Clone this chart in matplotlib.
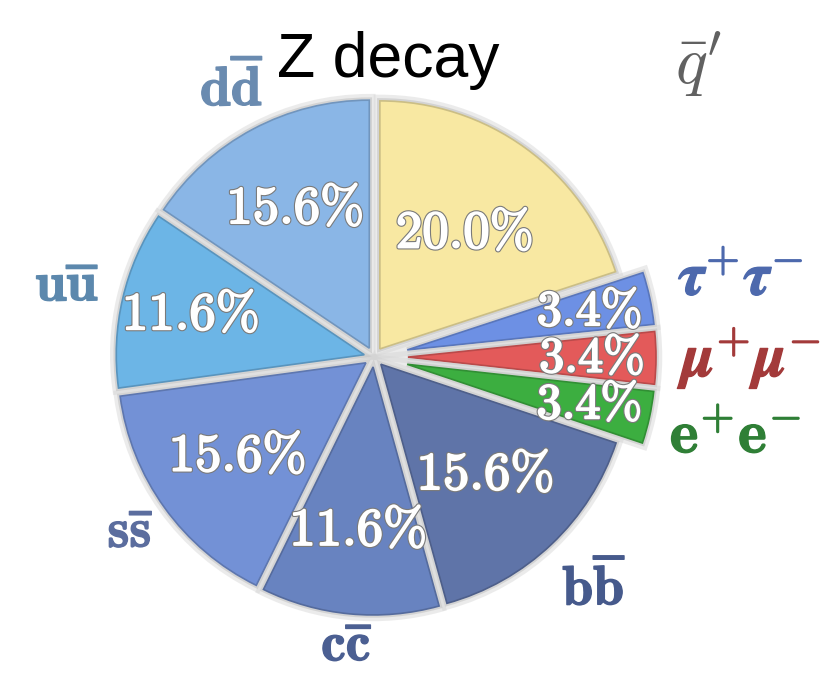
import numpy as np
import matplotlib
matplotlib.use("Agg")
import matplotlib.pyplot as plt
import matplotlib.patheffects as pe
import matplotlib.colors as mcolors

plt.rcParams['mathtext.fontset'] = 'cm'

# Z boson branching fractions (%), clockwise from 12 o'clock
values = [20.0, 3.4, 3.4, 3.4, 15.6, 11.6, 15.6, 11.6, 15.6]
names = ['', r'$\boldsymbol{\tau}^{+}\boldsymbol{\tau}^{-}$',
         r'$\boldsymbol{\mu}^{+}\boldsymbol{\mu}^{-}$',
         r'$\mathbf{e}^{+}\mathbf{e}^{-}$',
         r'$\mathbf{b\overline{b}}$', r'$\mathbf{c\overline{c}}$', r'$\mathbf{s\overline{s}}$',
         r'$\mathbf{u\overline{u}}$', r'$\mathbf{d\overline{d}}$']
colors = ['#f8e8a2', '#6d90e4', '#e35a5a', '#3cae40', '#5f74a8',
          '#6883c0', '#7391d6', '#6cb5e6', '#8ab6e6']
label_colors = ['#000000', '#4d69ad', '#a33a3a', '#2f7f36', '#465a8c',
                '#4b5f92', '#5b6d9e', '#5c88ad', '#6a8bb0']
explode = [10, 34, 34, 34, 10, 10, 10, 10, 10]
label_r = [0, 1.375, 1.395, 1.355, 1.25, 1.13, 1.17, 1.23, 1.18]
pct_r = [0.58, 0.75, 0.74, 0.75, 0.61, 0.66, 0.64, 0.72, 0.64]

W, H = 831, 673
fig = plt.figure(figsize=(W / 100, H / 100), dpi=100)
ax = fig.add_axes([0, 0, 1, 1])

R = 248
cx, cy = 374, H - 357

edges = [tuple(c * 0.82 for c in mcolors.to_rgb(col)) for col in colors]
wedges, texts, autotexts = ax.pie(
    values, colors=colors, explode=explode, startangle=90, counterclock=False,
    radius=R, center=(cx, cy), autopct=lambda p: rf'$\mathbf{{{p:.1f}\%}}$',
    wedgeprops=dict(linewidth=1.2), textprops=dict(fontsize=38))

for w, ec in zip(wedges, edges):
    w.set_edgecolor(ec)
    w.set_path_effects([pe.Stroke(linewidth=9, foreground='#d4d4d4', alpha=0.45),
                        pe.Stroke(linewidth=4, foreground='#c4c4c4', alpha=0.6),
                        pe.Normal()])

for i, (w, t, at) in enumerate(zip(wedges, texts, autotexts)):
    th = np.deg2rad((w.theta1 + w.theta2) / 2)
    x0, y0 = w.center
    at.set_position((x0 + pct_r[i] * R * np.cos(th), y0 + pct_r[i] * R * np.sin(th)))
    at.set_color('white')
    at.set_ha('center')
    at.set_va('center')
    if i in (1, 2, 3):
        at.set_fontsize(36)
    at.set_path_effects([pe.Stroke(linewidth=3, foreground='#7a7a7a'),
                         pe.Stroke(linewidth=1.4, foreground='white'),
                         pe.Normal()])
    if names[i]:
        t.set_text(names[i])
        t.set_position((x0 + label_r[i] * R * np.cos(th), y0 + label_r[i] * R * np.sin(th)))
        t.set_color(label_colors[i])
        t.set_fontsize(44 if i in (1, 2, 3) else 40)
        t.set_ha('center')
        t.set_va('center')
        t.set_path_effects([pe.withStroke(linewidth=1, foreground=label_colors[i])])
    else:
        t.set_visible(False)

ax.set_xlim(0, W)
ax.set_ylim(0, H)
ax.axis('off')

ax.text(388 / W, 1 - 77 / H, 'Z decay', transform=ax.transAxes, ha='center',
        va='baseline', fontsize=45, family='Liberation Sans', color='black')
ax.text(698 / W, 1 - 64 / H, r"$\bar{q}'$", transform=ax.transAxes, ha='center',
        va='center', fontsize=48, color='#3a3a3a', alpha=0.8)

fig.savefig('out.png', dpi=100)
